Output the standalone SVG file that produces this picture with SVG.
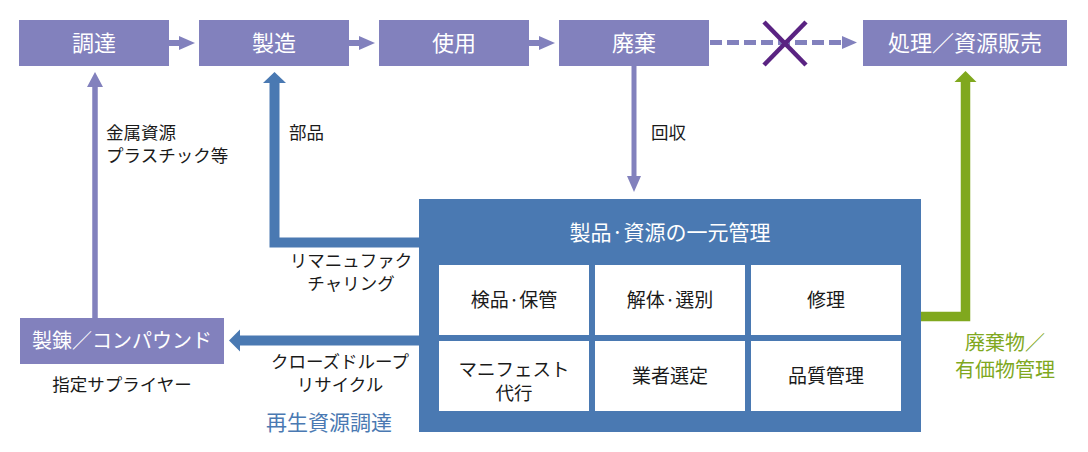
<svg xmlns="http://www.w3.org/2000/svg" width="1088" height="452" viewBox="0 0 1088 452">
<style>
.pbox{fill:#8281BD}
.bbox{fill:#4A79B2}
.cell{fill:#FFFFFF}
.wt{font-family:"Noto Sans CJK JP","Noto Sans",sans-serif;fill:#FFFFFF;text-anchor:middle}
.bt{font-family:"Noto Sans CJK JP","Noto Sans",sans-serif;fill:#1A1A1A;text-anchor:middle}
.lbl{font-family:"Noto Sans CJK JP","Noto Sans",sans-serif;fill:#1A1A1A;font-size:17.5px}
.pl{stroke:#8281BD;fill:none}
.ph{fill:#8281BD}
.bl{stroke:#4A79B2;fill:none}
.bh{fill:#4A79B2}
.gl{stroke:#80A81E;fill:none}
.gh{fill:#80A81E}
.gt{font-family:"Noto Sans CJK JP","Noto Sans",sans-serif;fill:#80A81E;text-anchor:middle;font-size:20px}
</style>
<rect width="1088" height="452" fill="#FFFFFF"/>

<g id="connectors">
  <!-- top flow arrows -->
  <line class="pl" x1="169" y1="43" x2="180" y2="43" stroke-width="6"/>
  <polygon class="ph" points="179,36 195,43 179,50"/>
  <line class="pl" x1="349" y1="43" x2="360" y2="43" stroke-width="6"/>
  <polygon class="ph" points="359,36 375,43 359,50"/>
  <line class="pl" x1="529" y1="43" x2="540" y2="43" stroke-width="6"/>
  <polygon class="ph" points="539,36 555,43 539,50"/>
  <!-- dashed blocked arrow -->
  <line class="pl" x1="710" y1="42.5" x2="842" y2="42.5" stroke-width="5" stroke-dasharray="12 5"/>
  <polygon class="ph" points="842,36 857,42.5 842,49"/>
  <g id="cross" stroke="#5A2382" stroke-width="4.5">
    <line x1="764" y1="22" x2="806" y2="65"/>
    <line x1="764" y1="65" x2="806" y2="22"/>
  </g>
  <!-- 回収 -->
  <line class="pl" x1="634" y1="66" x2="634" y2="177" stroke-width="5"/>
  <polygon class="ph" points="627,176 641,176 634,192"/>
  <!-- up to 調達 -->
  <line class="pl" x1="95" y1="318" x2="95" y2="86" stroke-width="5.5"/>
  <polygon class="ph" points="87,87 103,87 95,72"/>
  <!-- remanufacturing to 製造 -->
  <polyline class="bl" points="419,242.5 274.5,242.5 274.5,82" stroke-width="10"/>
  <polygon class="bh" points="263,83 286,83 274.5,72"/>
  <!-- closed loop to 製錬 -->
  <line class="bl" x1="419" y1="340.5" x2="239" y2="340.5" stroke-width="10"/>
  <polygon class="bh" points="240,329.5 240,351.5 229,340.5"/>
  <!-- green to 処理 -->
  <polyline class="gl" points="921,316.5 965.5,316.5 965.5,81" stroke-width="9.5"/>
  <polygon class="gh" points="954.5,82 976.5,82 965.5,71"/>
</g>

<g id="node-chotatsu">
  <rect class="pbox" x="19" y="20" width="150" height="46"/>
  <text class="wt" x="94" y="51" font-size="22">調達</text>
</g>
<g id="node-seizo">
  <rect class="pbox" x="199" y="20" width="150" height="46"/>
  <text class="wt" x="274" y="51" font-size="22">製造</text>
</g>
<g id="node-shiyo">
  <rect class="pbox" x="379" y="20" width="150" height="46"/>
  <text class="wt" x="454" y="51" font-size="22">使用</text>
</g>
<g id="node-haiki">
  <rect class="pbox" x="559" y="20" width="150" height="46"/>
  <text class="wt" x="634" y="51" font-size="22">廃棄</text>
</g>
<g id="node-shori">
  <rect class="pbox" x="863" y="20" width="204" height="46"/>
  <text class="wt" x="965" y="51" font-size="22">処理／資源販売</text>
</g>
<g id="node-seiren">
  <rect class="pbox" x="20" y="318" width="204" height="46"/>
  <text class="wt" x="122" y="348" font-size="20">製錬／コンパウンド</text>
  <text class="bt" x="122" y="391" font-size="17.5">指定サプライヤー</text>
</g>

<g id="node-center">
  <rect class="bbox" x="419" y="199" width="502" height="233"/>
  <text class="wt" x="670" y="240" font-size="21">製品·資源の一元管理</text>
  <g id="cell-kenpin">
    <rect class="cell" x="439" y="265" width="150" height="70"/>
    <text class="bt" x="514" y="307" font-size="19">検品·保管</text>
  </g>
  <g id="cell-kaitai">
    <rect class="cell" x="595" y="265" width="150" height="70"/>
    <text class="bt" x="670" y="307" font-size="19">解体·選別</text>
  </g>
  <g id="cell-shuri">
    <rect class="cell" x="751" y="265" width="150" height="70"/>
    <text class="bt" x="826" y="307" font-size="19">修理</text>
  </g>
  <g id="cell-manifest">
    <rect class="cell" x="439" y="341" width="150" height="70"/>
    <text class="bt" x="514" y="376" font-size="18.5">マニフェスト</text>
    <text class="bt" x="514" y="400" font-size="18.5">代行</text>
  </g>
  <g id="cell-gyosha">
    <rect class="cell" x="595" y="341" width="150" height="70"/>
    <text class="bt" x="670" y="383" font-size="19">業者選定</text>
  </g>
  <g id="cell-hinshitsu">
    <rect class="cell" x="751" y="341" width="150" height="70"/>
    <text class="bt" x="826" y="383" font-size="19">品質管理</text>
  </g>
</g>

<g id="labels">
  <text class="lbl" x="106" y="139">金属資源</text>
  <text class="lbl" x="106" y="162">プラスチック等</text>
  <text class="lbl" x="289" y="139">部品</text>
  <text class="lbl" x="651" y="139">回収</text>
  <text class="lbl" x="351" y="267" text-anchor="middle">リマニュファク</text>
  <text class="lbl" x="351" y="290" text-anchor="middle">チャリング</text>
  <text class="lbl" x="340" y="368" text-anchor="middle">クローズドループ</text>
  <text class="lbl" x="340" y="391" text-anchor="middle">リサイクル</text>
  <text x="329" y="430" font-family="'Noto Sans CJK JP','Noto Sans',sans-serif" font-size="21" fill="#4A79B2" text-anchor="middle">再生資源調達</text>
  <text class="gt" x="1005" y="350">廃棄物／</text>
  <text class="gt" x="1005" y="377">有価物管理</text>
</g>
</svg>
